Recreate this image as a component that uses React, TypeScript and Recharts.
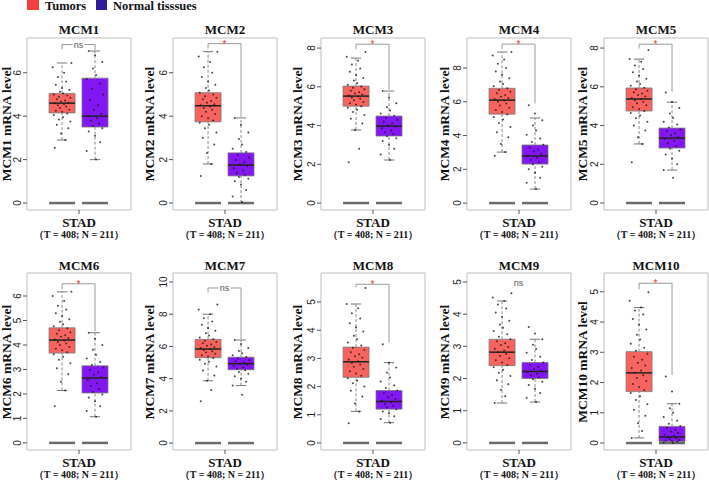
import React from "react";
import {
  ComposedChart,
  XAxis,
  YAxis,
  Scatter,
  ReferenceArea,
  ReferenceLine,
  ReferenceDot,
} from "recharts";

// ---- data ----
const genes = ["MCM1", "MCM2", "MCM3", "MCM4", "MCM5", "MCM6", "MCM7", "MCM8", "MCM9", "MCM10"];

const yMin = [-0.32, -0.32, -0.36, -0.41, -0.36, -0.29, -0.43, -0.25, -0.22, -0.23];
const yMax = [7.6, 7.6, 8.52, 9.78, 8.52, 6.94, 10.56, 6.03, 5.28, 5.62];
const yTicks = [
  [0, 2, 4, 6],
  [0, 2, 4, 6],
  [0, 2, 4, 6, 8],
  [0, 2, 4, 6, 8],
  [0, 2, 4, 6, 8],
  [0, 1, 2, 3, 4, 5, 6],
  [0, 2, 4, 6, 8, 10],
  [0, 1, 2, 3, 4, 5],
  [0, 1, 2, 3, 4, 5],
  [0, 1, 2, 3, 4, 5],
];

// [whisker low, q1, median, q3, whisker high]
const tumorBox = [
  [2.9, 4.15, 4.6, 5.05, 6.45],
  [1.8, 3.74, 4.48, 5.08, 6.97],
  [3.77, 5.0, 5.52, 6.04, 7.48],
  [3.02, 5.27, 6.1, 6.8, 8.95],
  [3.05, 4.75, 5.37, 5.94, 7.43],
  [2.14, 3.67, 4.2, 4.7, 6.17],
  [3.87, 5.3, 5.84, 6.44, 8.0],
  [1.12, 2.33, 2.88, 3.4, 4.93],
  [1.24, 2.4, 2.82, 3.22, 4.41],
  [0.17, 1.7, 2.32, 3.02, 4.48],
];
const normalBox = [
  [2.0, 3.5, 4.0, 5.75, 7.0],
  [0.0, 1.25, 1.75, 2.31, 3.92],
  [2.22, 3.46, 3.97, 4.49, 5.78],
  [0.83, 2.31, 2.79, 3.44, 5.04],
  [1.7, 2.84, 3.35, 3.87, 5.21],
  [1.07, 2.04, 2.65, 3.15, 4.5],
  [3.57, 4.55, 4.93, 5.33, 6.4],
  [0.72, 1.2, 1.47, 1.86, 2.85],
  [1.27, 2.0, 2.22, 2.5, 3.22],
  [0.0, 0.05, 0.2, 0.55, 1.3],
];

const sigText = ["ns", "*", "*", "*", "*", "*", "ns", "*", "ns", "*"];
const sigY = [7.3, 7.34, 8.2, 9.42, 8.2, 6.5, 9.63, 5.63, 4.97, 5.28];
const hasBracket = [true, true, true, true, true, true, true, true, false, true];
const bracketEndTumor = [7.08, 7.12, 7.95, 9.12, 7.98, 6.27, 9.35, 5.52, 0, 5.08];
const bracketEndNormal = [7.05, 3.97, 5.85, 5.9, 5.75, 4.56, 6.45, 3.56, 0, 2.25];

// sampled expression values (jitter dots)
const mcm1Tumor = [2.55, 2.9, 3.2, 3.45, 3.6, 3.75, 3.85, 3.95, 4.05, 4.12, 4.2, 4.25, 4.3, 4.38, 4.45, 4.5, 4.55, 4.6, 4.62, 4.68, 4.72, 4.78, 4.85, 4.9, 4.95, 5.0, 5.05, 5.12, 5.2, 5.3, 5.45, 5.6, 5.8, 6.0, 6.25, 6.45];
const mcm1Normal = [2.0, 2.4, 2.8, 3.1, 3.3, 3.45, 3.55, 3.65, 3.8, 3.9, 4.0, 4.1, 4.3, 4.5, 4.75, 5.0, 5.25, 5.5, 5.7, 5.9, 6.2, 6.5, 6.8, 7.0];
const mcm2Tumor = [1.25, 1.8, 2.3, 2.7, 3.0, 3.25, 3.45, 3.6, 3.7, 3.8, 3.9, 4.0, 4.1, 4.2, 4.3, 4.38, 4.45, 4.5, 4.55, 4.62, 4.7, 4.78, 4.85, 4.92, 5.0, 5.08, 5.18, 5.3, 5.45, 5.6, 5.8, 6.0, 6.25, 6.5, 6.75, 6.97];
const mcm2Normal = [0.05, 0.3, 0.6, 0.85, 1.0, 1.12, 1.2, 1.3, 1.4, 1.5, 1.6, 1.7, 1.78, 1.88, 1.98, 2.1, 2.22, 2.35, 2.5, 2.7, 2.95, 3.25, 3.6, 3.92];
const mcm3Tumor = [2.1, 2.8, 3.77, 4.1, 4.35, 4.55, 4.7, 4.82, 4.92, 5.0, 5.08, 5.15, 5.22, 5.3, 5.38, 5.45, 5.5, 5.55, 5.6, 5.66, 5.72, 5.8, 5.88, 5.95, 6.02, 6.1, 6.2, 6.32, 6.45, 6.6, 6.78, 6.95, 7.15, 7.35, 7.55, 7.8];
const mcm3Normal = [2.22, 2.5, 2.8, 3.0, 3.2, 3.35, 3.45, 3.55, 3.65, 3.75, 3.85, 3.95, 4.02, 4.1, 4.2, 4.3, 4.4, 4.5, 4.62, 4.78, 4.95, 5.15, 5.45, 5.78];
const mcm4Tumor = [2.8, 3.02, 3.5, 3.9, 4.2, 4.5, 4.75, 4.95, 5.1, 5.25, 5.4, 5.52, 5.65, 5.78, 5.9, 6.0, 6.08, 6.15, 6.22, 6.3, 6.4, 6.5, 6.6, 6.7, 6.8, 6.92, 7.05, 7.2, 7.4, 7.6, 7.8, 8.0, 8.25, 8.5, 8.75, 8.95];
const mcm4Normal = [0.83, 1.2, 1.5, 1.8, 2.0, 2.15, 2.3, 2.42, 2.55, 2.68, 2.8, 2.92, 3.05, 3.18, 3.3, 3.45, 3.62, 3.82, 4.05, 4.3, 4.6, 4.9, 5.3, 5.8];
const mcm5Tumor = [2.1, 3.05, 3.4, 3.75, 4.0, 4.2, 4.38, 4.52, 4.65, 4.75, 4.85, 4.95, 5.05, 5.15, 5.22, 5.3, 5.37, 5.42, 5.5, 5.58, 5.65, 5.72, 5.8, 5.88, 5.95, 6.05, 6.15, 6.28, 6.42, 6.58, 6.75, 6.92, 7.1, 7.3, 7.43, 7.9];
const mcm5Normal = [1.3, 1.7, 2.0, 2.3, 2.5, 2.7, 2.82, 2.95, 3.08, 3.2, 3.3, 3.4, 3.5, 3.6, 3.7, 3.8, 3.9, 4.05, 4.2, 4.4, 4.62, 4.9, 5.21, 5.7];
const mcm6Tumor = [1.5, 2.14, 2.5, 2.8, 3.05, 3.25, 3.4, 3.52, 3.62, 3.7, 3.78, 3.85, 3.92, 4.0, 4.06, 4.12, 4.18, 4.22, 4.28, 4.34, 4.4, 4.46, 4.52, 4.6, 4.68, 4.76, 4.85, 4.95, 5.05, 5.18, 5.3, 5.45, 5.6, 5.8, 6.0, 6.17];
const mcm6Normal = [1.07, 1.3, 1.5, 1.7, 1.85, 1.98, 2.08, 2.2, 2.32, 2.45, 2.58, 2.68, 2.78, 2.88, 2.98, 3.08, 3.18, 3.3, 3.45, 3.6, 3.8, 4.0, 4.25, 4.5];
const mcm7Tumor = [2.6, 3.3, 3.87, 4.2, 4.5, 4.75, 4.92, 5.05, 5.18, 5.28, 5.38, 5.46, 5.54, 5.62, 5.7, 5.78, 5.84, 5.9, 5.97, 6.04, 6.12, 6.2, 6.28, 6.36, 6.44, 6.55, 6.68, 6.82, 6.98, 7.15, 7.35, 7.55, 7.75, 8.0, 8.3, 8.6];
const mcm7Normal = [3.0, 3.57, 3.8, 4.0, 4.15, 4.3, 4.42, 4.52, 4.62, 4.7, 4.78, 4.86, 4.93, 5.0, 5.08, 5.16, 5.25, 5.34, 5.45, 5.58, 5.72, 5.9, 6.15, 6.4];
const mcm8Tumor = [0.7, 1.12, 1.4, 1.65, 1.85, 2.0, 2.12, 2.22, 2.3, 2.38, 2.46, 2.54, 2.62, 2.7, 2.78, 2.84, 2.9, 2.96, 3.02, 3.08, 3.15, 3.22, 3.3, 3.38, 3.46, 3.56, 3.68, 3.8, 3.95, 4.1, 4.25, 4.42, 4.6, 4.78, 4.93, 5.5];
const mcm8Normal = [0.72, 0.85, 0.95, 1.05, 1.12, 1.2, 1.26, 1.32, 1.38, 1.44, 1.5, 1.56, 1.62, 1.7, 1.78, 1.86, 1.95, 2.05, 2.18, 2.32, 2.5, 2.68, 2.85, 3.5];
const mcm9Tumor = [1.24, 1.45, 1.65, 1.82, 1.95, 2.08, 2.18, 2.27, 2.35, 2.42, 2.5, 2.57, 2.63, 2.7, 2.76, 2.82, 2.87, 2.93, 2.98, 3.04, 3.1, 3.16, 3.22, 3.3, 3.38, 3.48, 3.58, 3.68, 3.8, 3.92, 4.05, 4.18, 4.3, 4.41, 4.52, 4.65];
const mcm9Normal = [1.27, 1.4, 1.55, 1.68, 1.8, 1.9, 1.98, 2.04, 2.1, 2.15, 2.2, 2.25, 2.3, 2.36, 2.42, 2.5, 2.58, 2.68, 2.8, 2.92, 3.05, 3.22, 3.4, 3.6];
const mcm10Tumor = [0.17, 0.4, 0.65, 0.9, 1.1, 1.28, 1.42, 1.55, 1.65, 1.75, 1.85, 1.95, 2.05, 2.15, 2.24, 2.32, 2.4, 2.48, 2.56, 2.65, 2.75, 2.85, 2.95, 3.05, 3.15, 3.28, 3.42, 3.58, 3.75, 3.92, 4.1, 4.25, 4.38, 4.48, 4.7, 4.98];
const mcm10Normal = [0.0, 0.02, 0.04, 0.06, 0.08, 0.1, 0.13, 0.16, 0.2, 0.24, 0.28, 0.33, 0.38, 0.44, 0.5, 0.56, 0.64, 0.74, 0.86, 1.0, 1.15, 1.3, 1.7, 2.2];

const tumorPoints = [mcm1Tumor, mcm2Tumor, mcm3Tumor, mcm4Tumor, mcm5Tumor, mcm6Tumor, mcm7Tumor, mcm8Tumor, mcm9Tumor, mcm10Tumor];
const normalPoints = [mcm1Normal, mcm2Normal, mcm3Normal, mcm4Normal, mcm5Normal, mcm6Normal, mcm7Normal, mcm8Normal, mcm9Normal, mcm10Normal];

// horizontal jitter offsets for the dots
const jitter = [-0.07, 0.03, -0.01, 0.06, -0.05, 0.08, -0.03, 0.01, -0.08, 0.05, 0.0, -0.06, 0.07, -0.02, 0.04, -0.04, 0.02, -0.07, 0.06, -0.01, 0.03, -0.05, 0.08, -0.03, 0.05, -0.08, 0.01, -0.02, 0.07, 0.0, -0.06, 0.04, -0.04, 0.02, -0.09, 0.09];

// ---- layout ----
const FRAME_LEFT = [27, 173, 321, 467, 604];
const LABEL_X = [6, 149, 297, 444, 582];
const FRAME_W = 104;
const AXIS_W = 27;
const TUMOR_X = 0.337;
const NORMAL_X = 0.654;
const HALF = 0.125;
const CAP = 0.05;

const RED = "#F7645F";
const PURPLE = "#8316F2";
const SERIF = "'Liberation Serif', 'Times New Roman', serif";
const SANS = "'Liberation Sans', Arial, sans-serif";

const YTick = (props: any) => {
  const { x, y, payload } = props;
  return (
    <text
      x={x}
      y={y}
      transform={`rotate(-90 ${x} ${y})`}
      textAnchor="middle"
      fontSize={10}
      fontFamily={SANS}
      fill="#222"
    >
      {payload.value}
    </text>
  );
};

const XTick = (props: any) => {
  const { x, y } = props;
  return (
    <g fontFamily={SERIF} fontWeight="bold" textAnchor="middle" fill="#111">
      <text x={x} y={y + 10.5} fontSize={13}>
        STAD
      </text>
      <text x={x} y={y + 21.5} fontSize={10}>
        （T = 408; N = 211）
      </text>
    </g>
  );
};

const Dot = (p: any) => <circle cx={p.cx} cy={p.cy} r={1} fill="#1a1a1a" fillOpacity={0.8} />;

function boxParts(c: number, s: number[], fill: string, key: string) {
  const [lo, q1, med, q3, hi] = s;
  return [
    <ReferenceLine key={key + "w1"} segment={[{ x: c, y: q3 }, { x: c, y: hi }]} stroke="#888" strokeDasharray="3 2" ifOverflow="visible" />,
    <ReferenceLine key={key + "w2"} segment={[{ x: c, y: lo }, { x: c, y: q1 }]} stroke="#888" strokeDasharray="3 2" ifOverflow="visible" />,
    <ReferenceLine key={key + "c1"} segment={[{ x: c - CAP, y: hi }, { x: c + CAP, y: hi }]} stroke="#777" ifOverflow="visible" />,
    <ReferenceLine key={key + "c2"} segment={[{ x: c - CAP, y: lo }, { x: c + CAP, y: lo }]} stroke="#777" ifOverflow="visible" />,
    <ReferenceArea key={key + "b"} x1={c - HALF} x2={c + HALF} y1={q1} y2={q3} fill={fill} fillOpacity={1} stroke="#777" strokeWidth={0.8} ifOverflow="visible" />,
  ];
}

function Panel({ i }: { i: number }) {
  const col = i % 5;
  const row = Math.floor(i / 5);
  const top = row === 0 ? 0 : 240;
  const height = row === 0 ? 240 : 242;
  const marginTop = row === 0 ? 38 : 33;
  const tPts = tumorPoints[i].map((v, k) => ({ x: TUMOR_X + jitter[k % jitter.length], y: v }));
  const nPts = normalPoints[i].map((v, k) => ({ x: NORMAL_X + jitter[(k + 7) % jitter.length], y: v }));
  const t = tumorBox[i];
  const n = normalBox[i];
  const isStar = sigText[i] === "*";

  return (
    <div style={{ position: "absolute", left: FRAME_LEFT[col] - AXIS_W, top }}>
      <ComposedChart
        width={AXIS_W + FRAME_W + 2}
        height={height}
        margin={{ top: marginTop, right: 2, bottom: 0, left: 0 }}
      >
        <XAxis
          type="number"
          dataKey="x"
          domain={[0, 1]}
          ticks={[0.5]}
          allowDataOverflow
          height={height - 210}
          axisLine={false}
          tickSize={4}
          tickLine={{ stroke: "#555" }}
          tick={<XTick />}
        />
        <YAxis
          type="number"
          dataKey="y"
          domain={[yMin[i], yMax[i]]}
          ticks={yTicks[i]}
          allowDataOverflow
          width={AXIS_W}
          axisLine={false}
          tickSize={4}
          tickLine={{ stroke: "#555" }}
          tick={<YTick />}
        />
        <ReferenceArea
          x1={0}
          x2={1}
          y1={yMin[i]}
          y2={yMax[i]}
          fill="none"
          stroke="#BDBDBD"
          strokeWidth={1}
          ifOverflow="visible"
        />
        {boxParts(TUMOR_X, t, RED, "t")}
        {boxParts(NORMAL_X, n, PURPLE, "n")}
        <Scatter data={tPts} isAnimationActive={false} shape={Dot} />
        <Scatter data={nPts} isAnimationActive={false} shape={Dot} />
        <ReferenceLine segment={[{ x: TUMOR_X - HALF, y: t[2] }, { x: TUMOR_X + HALF, y: t[2] }]} stroke="#222" strokeWidth={1.5} ifOverflow="visible" />
        <ReferenceLine segment={[{ x: NORMAL_X - HALF, y: n[2] }, { x: NORMAL_X + HALF, y: n[2] }]} stroke="#222" strokeWidth={1.5} ifOverflow="visible" />
        <ReferenceLine segment={[{ x: TUMOR_X - HALF, y: 0 }, { x: TUMOR_X + HALF, y: 0 }]} stroke="#6a6a6a" strokeWidth={2.5} ifOverflow="visible" />
        <ReferenceLine segment={[{ x: NORMAL_X - HALF, y: 0 }, { x: NORMAL_X + HALF, y: 0 }]} stroke="#6a6a6a" strokeWidth={2.5} ifOverflow="visible" />
        {hasBracket[i] && (
          <ReferenceLine segment={[{ x: TUMOR_X, y: sigY[i] }, { x: NORMAL_X, y: sigY[i] }]} stroke="#999" ifOverflow="visible" />
        )}
        {hasBracket[i] && (
          <ReferenceLine segment={[{ x: TUMOR_X, y: sigY[i] }, { x: TUMOR_X, y: bracketEndTumor[i] }]} stroke="#999" ifOverflow="visible" />
        )}
        {hasBracket[i] && (
          <ReferenceLine segment={[{ x: NORMAL_X, y: sigY[i] }, { x: NORMAL_X, y: bracketEndNormal[i] }]} stroke="#999" ifOverflow="visible" />
        )}
        <ReferenceDot
          x={(TUMOR_X + NORMAL_X) / 2}
          y={sigY[i]}
          r={0}
          ifOverflow="visible"
          shape={(p: any) => (
            <g>
              {!isStar && <rect x={p.cx - 6} y={p.cy - 4} width={12} height={8} fill="#fff" />}
              <text
                x={p.cx}
                y={isStar ? p.cy + 4 : p.cy + 3}
                textAnchor="middle"
                fontSize={isStar ? 10 : 9}
                fontFamily={SANS}
                fill={isStar ? "#E0392F" : "#555"}
              >
                {sigText[i]}
              </text>
            </g>
          )}
        />
      </ComposedChart>
    </div>
  );
}

export default function App() {
  return (
    <div style={{ position: "absolute", left: 0, top: 0, width: 709, height: 482, background: "#fff", overflow: "hidden" }}>
      {genes.map((g, i) => (
        <Panel key={g} i={i} />
      ))}
      <svg width={709} height={482} style={{ position: "absolute", left: 0, top: 0, pointerEvents: "none" }}>
        <g fontFamily={SERIF} fontWeight="bold" fill="#111">
          <rect x={27} y={-2} width={12} height={12} fill="#F5413B" />
          <text x={45} y={10} fontSize={12.5}>Tumors</text>
          <rect x={96} y={-2} width={11} height={12} fill="#2E1B9C" />
          <text x={113} y={10} fontSize={12.5}>Normal tisssues</text>
          {genes.map((g, i) => {
            const col = i % 5;
            const row = Math.floor(i / 5);
            const cx = FRAME_LEFT[col] + FRAME_W / 2;
            const ty = row === 0 ? 33.5 : 269.5;
            const ly = row === 0 ? 124 : 362;
            const lx = LABEL_X[col];
            return (
              <g key={g}>
                <text x={cx} y={ty} fontSize={13} textAnchor="middle">
                  {g}
                </text>
                <text
                  x={lx}
                  y={ly}
                  fontSize={13.5}
                  textAnchor="middle"
                  dominantBaseline="central"
                  transform={`rotate(-90 ${lx} ${ly})`}
                >
                  {g} mRNA level
                </text>
              </g>
            );
          })}
        </g>
      </svg>
    </div>
  );
}
